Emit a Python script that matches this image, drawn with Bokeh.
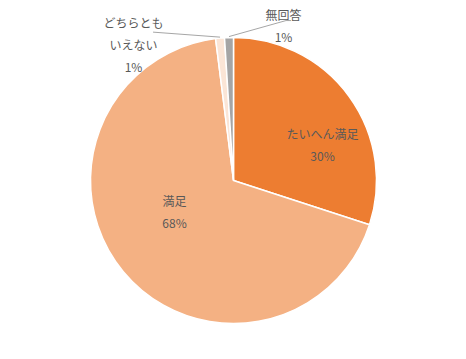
import math
from bokeh.plotting import figure
from bokeh.models import ColumnDataSource
from bokeh.core.properties import value
from bokeh.embed import file_html
from bokeh.resources import INLINE

# ---- data ----
categories = ["たいへん満足", "満足", "どちらとも\nいえない", "無回答"]
values = [30, 68, 1, 1]
pct_labels = ["30%", "68%", "1%", "1%"]
colors = ["#ED7D31", "#F4B183", "#FBE5D6", "#A5A5A5"]

# ---- layout (pixel-ish data units) ----
W, H = 450, 343
CX, CY, R = 233, 163, 143
FONT = "Noto Sans CJK JP"
TXT = "#595959"

p = figure(width=W, height=H, x_range=(0, W), y_range=(0, H),
           output_backend="svg", toolbar_location=None, min_border=0)
p.axis.visible = False
p.grid.visible = False
p.outline_line_color = None
p.background_fill_color = "white"

total = float(sum(values))
starts, ends = [], []
cum = 0.0
for v in values:
    a0 = math.pi / 2 - 2 * math.pi * cum / total
    cum += v
    a1 = math.pi / 2 - 2 * math.pi * cum / total
    starts.append(a0)
    ends.append(a1)

src = ColumnDataSource(dict(x=[CX] * len(values), y=[CY] * len(values),
                            start=starts, end=ends, color=colors))
p.wedge(x="x", y="y", radius=R, start_angle="start", end_angle="end",
        direction="clock", fill_color="color", line_color="white",
        line_width=1.5, source=src)

# label placement: (dx, dy) offsets from centre for name line, per slice
name_pos = [(89, 47), (-59, -20), (-100, 158), (50, 166)]
line_gap = 22


def to_xy(i):
    dx, dy = name_pos[i]
    return CX + dx, CY + dy


for i, cat in enumerate(categories):
    x0, y0 = to_xy(i)
    lines = cat.split("\n") + [pct_labels[i]]
    xs = [x0] * len(lines)
    ys = [y0 - k * line_gap for k in range(len(lines))]
    p.text(x=xs, y=ys, text=lines, text_font=value(FONT),
           text_font_size="12px", text_color=TXT, text_align="center",
           text_baseline="middle")

# leader lines for small slices
def edge_point(i, rfrac=1.0):
    mid = (starts[i] + ends[i]) / 2
    return CX + R * rfrac * math.cos(mid), CY + R * rfrac * math.sin(mid) + 1

gx, gy = edge_point(3)
lx, ly = edge_point(2)
p.line(x=[gx, gx + 57, gx + 62], y=[gy, gy + 16, gy + 16],
       line_color="#A6A6A6", line_width=1)
p.line(x=[lx, lx - 67], y=[ly, ly + 5], line_color="#A6A6A6", line_width=1)

open("out.html", "w").write(file_html(p, INLINE))
